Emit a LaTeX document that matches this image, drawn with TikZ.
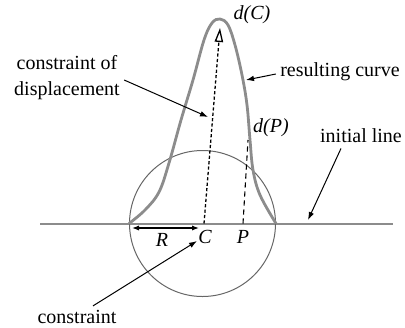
\documentclass[tikz,border=0pt]{standalone}
\usepackage{fontspec}
\setmainfont{Liberation Serif}
\usetikzlibrary{arrows.meta}

\begin{document}
\begin{tikzpicture}[x=0.5pt, y=-0.5pt,
  lbl/.style={font=\fontsize{10}{13}\selectfont, inner sep=0pt, align=center},
  var/.style={lbl, font=\fontsize{10}{13}\selectfont\itshape},
  arr/.style={-{Latex[length=4pt, width=2.8pt]}, line width=0.5pt},
  dbl/.style={{Latex[length=3.5pt, width=2.6pt]}-{Latex[length=3.5pt, width=2.6pt]}, line width=0.6pt},
  baseline/.style={draw=black!45, line width=1pt},
  ring/.style={draw=black!60, line width=0.5pt},
  curve/.style={draw=black!45, line width=1.4pt},
  dotline/.style={line width=0.65pt, dash pattern=on 1.6pt off 1.1pt, -{Triangle[open, length=7pt, width=4.2pt]}},
  dashline/.style={line width=0.55pt, dash pattern=on 2.6pt off 1.9pt}]
\useasboundingbox (0,0) rectangle (405,327);
% points on the initial line
\coordinate (lend) at (40,223.5);
\coordinate (rend) at (393,223.5);
\coordinate (C) at (204,223.5);
\coordinate (P) at (243,223.5);
\coordinate (O) at (202.5,223.5);
\coordinate (top) at (220,28);
\coordinate (ptop) at (248,140);
\draw[baseline] (lend) -- (rend);
\draw[ring] (O) circle[radius=73];
% displaced curve
\draw[curve] plot[smooth, tension=0.6] coordinates {(129,223.5) (145,210) (159,192) (169,163) (181,120) (193,80) (204,40) (212,23) (220,19) (228,25) (235,45) (242,75) (247,105) (250,140) (253,170) (260,195) (276,223.5)};
\draw[dotline] (C) -- (top);
\draw[dashline] (P) -- (ptop);
% labels
\node[var] (dC) at (252,15) {d(C)};
\node[var] (dP) at (271,128) {d(P)};
\node[var] (Rlbl) at (162,240) {R};
\node[var] (Clbl) at (205,237) {C};
\node[var] (Plbl) at (243,237) {P};
\node[lbl] (disp) at (67,78) {constraint of\\displacement};
\node[lbl] (res) at (340,72) {resulting curve};
\node[lbl] (init) at (361,136) {initial line};
\node[lbl] (cons) at (77,317) {constraint};
% arrow ends
\coordinate (Ra) at (132,228);
\coordinate (Rb) at (199,228);
\coordinate (disptip) at (208,117);
\coordinate (restip) at (246,80);
\coordinate (inittip) at (308,220);
\coordinate (constip) at (197,241);
\draw[dbl] (Ra) -- (Rb);
\draw[arr] ([xshift=2pt, yshift=-1pt]disp.east) -- (disptip);
\draw[arr] ([xshift=-2pt, yshift=-1pt]res.west) -- (restip);
\draw[arr] ([xshift=-10pt, yshift=-2.5pt]init.south) -- (inittip);
\draw[arr] ([xshift=8pt, yshift=2pt]cons.north) -- (constip);
\end{tikzpicture}
\end{document}
